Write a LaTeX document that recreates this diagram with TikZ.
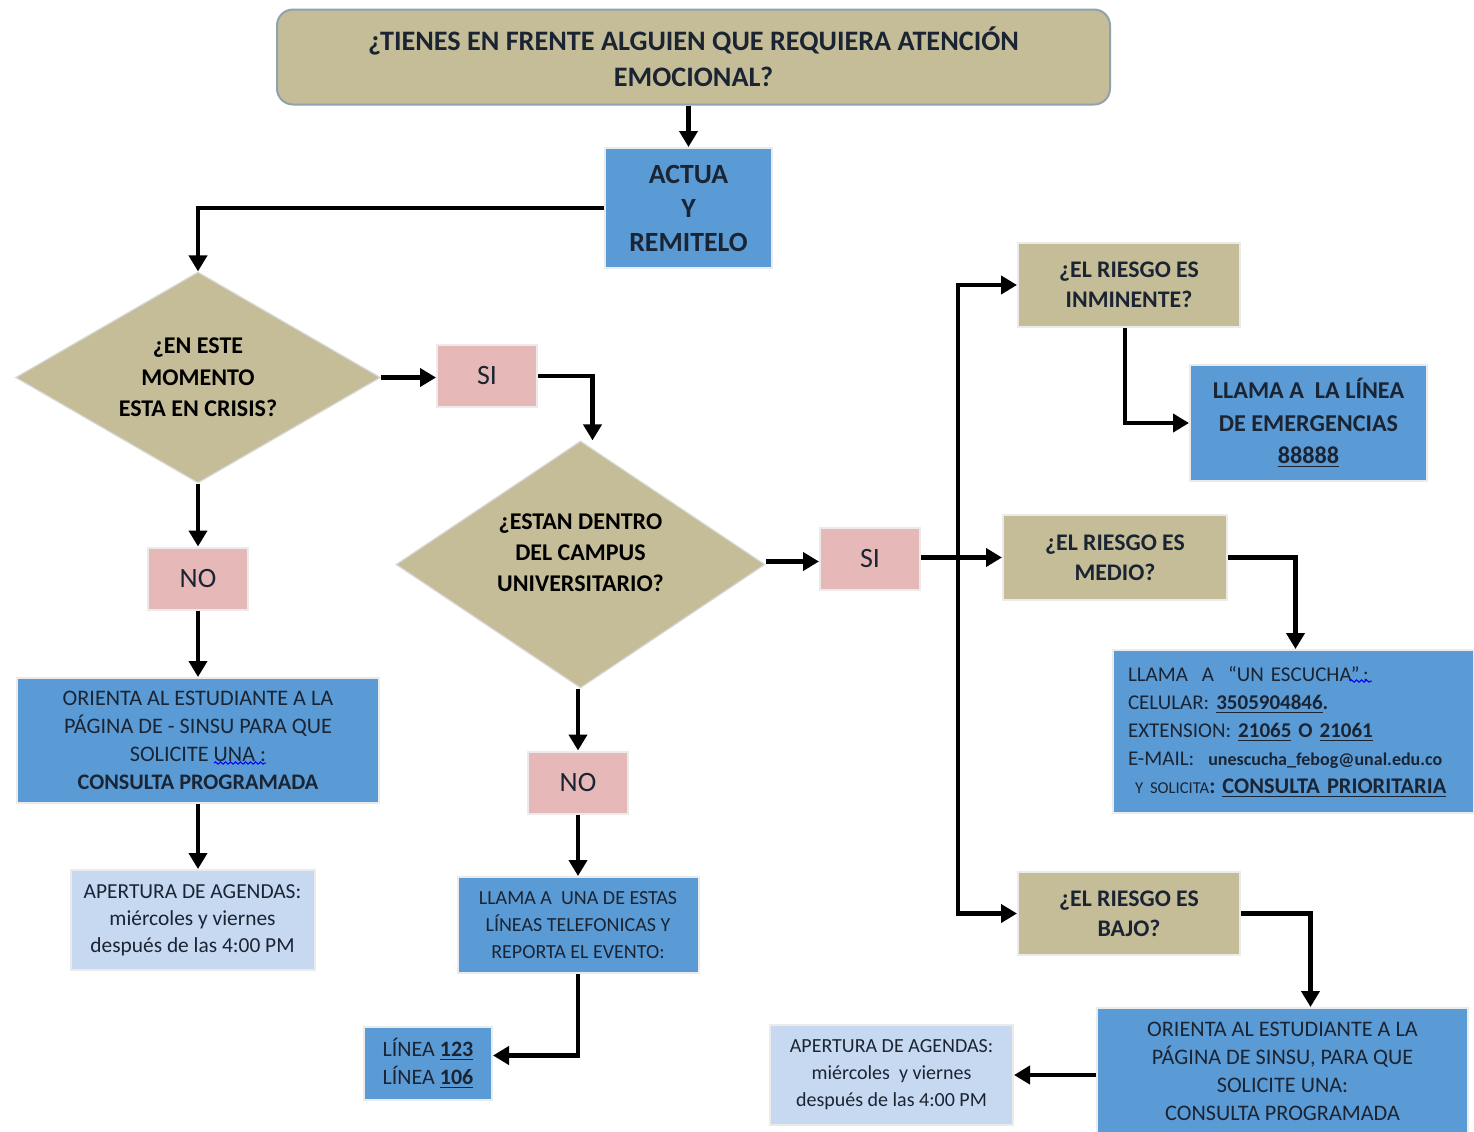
\documentclass[tikz,border=0pt]{standalone}
\usepackage{fontspec}
\setmainfont{Carlito}
\usetikzlibrary{shapes.geometric,arrows.meta,decorations.pathmorphing}

\definecolor{boxtan}{HTML}{C4BD97}
\definecolor{boxblue}{HTML}{5B9BD5}
\definecolor{boxpink}{HTML}{E6B9B8}
\definecolor{boxpale}{HTML}{C6D9F1}
\definecolor{titleline}{HTML}{8FA3AE}
\definecolor{ink}{HTML}{1B2433}

\tikzset{
    base/.style={
           rectangle,
           draw=black!8, line width=1pt,
           align=center,
           inner sep=2pt,
           text=ink,
           },
    title/.style={
           base,
           rounded corners=8pt,
           fill=boxtan, draw=titleline,
           minimum width=416.5pt, minimum height=47.5pt,
           font=\fontsize{14.1}{18}\selectfont\bfseries,
           },
    action/.style={base, fill=boxblue},
    question/.style={
           base, fill=boxtan,
           minimum width=111pt, minimum height=42pt,
           font=\fontsize{11.9}{15}\selectfont\bfseries,
           },
    decision/.style={
           diamond, aspect=1.7,
           draw=black!15, line width=0.6pt,
           fill=boxtan, text=black,
           align=center, inner sep=0pt,
           font=\fontsize{12}{15.7}\selectfont\bfseries,
           },
    answer/.style={
           base, fill=boxpink,
           minimum width=50pt, minimum height=31pt,
           font=\fontsize{14}{15}\selectfont,
           },
    note/.style={
           base, fill=boxpale,
           minimum width=122pt, minimum height=50pt,
           font=\fontsize{10}{13.5}\selectfont,
           },
    flow/.style={line width=2.3pt, -{Triangle[length=8pt,width=9pt]}},
    squiggle/.style={blue, line width=0.5pt, decorate,
           decoration={snake, amplitude=0.6pt, segment length=2.5pt}},
}

\begin{document}
\begin{tikzpicture}[x=0.5pt, y=-0.5pt]
    \path[use as bounding box, fill=white] (0,0) rectangle (1474,1131);

    % Question at the top
    \node[title,            % layout (defined above)
    anchor=center] (start) at (693.5,57)
    {¿TIENES EN FRENTE ALGUIEN QUE REQUIERA ATENCIÓN\\EMOCIONAL?};

    \node[action,
    minimum width=83.5pt, minimum height=60pt,
    font=\fontsize{13.9}{17}\selectfont\bfseries,
    anchor=center] (actua) at (688.5,208)
    {ACTUA\\Y\\REMITELO};

    % Left branch: crisis or not
    \node[decision, minimum width=182.5pt, minimum height=105.5pt,
    anchor=center] (crisis) at (198,377.5)
    {¿EN ESTE\\MOMENTO\\ESTA EN CRISIS?};

    \node[answer, anchor=center] (si1) at (487,376) {SI};

    \node[answer, anchor=center] (no1) at (198,578.5) {NO};

    \node[action,
    minimum width=181pt, minimum height=62.5pt,
    font=\fontsize{11.1}{14}\selectfont,
    anchor=center] (orient1) at (198,740.5)
    {ORIENTA AL ESTUDIANTE A LA\\PÁGINA DE - SINSU PARA QUE\\
     SOLICITE UNA :\\\textbf{CONSULTA PROGRAMADA}};

    \node[note, font=\fontsize{10.7}{13.5}\selectfont,
    anchor=center] (agenda1) at (192.5,920)
    {APERTURA DE AGENDAS:\\miércoles y viernes\\después de las 4:00 PM};

    % Middle branch: on campus or not (text sits above the centre)
    \node[decision, minimum width=184.5pt, minimum height=123.5pt,
    label={[font=\fontsize{12}{15.5}\selectfont\bfseries, align=center,
            yshift=6pt]center:{¿ESTAN DENTRO\\DEL CAMPUS\\UNIVERSITARIO?}},
    anchor=center] (campus) at (580.5,564.5) {};

    \node[answer, anchor=center] (no2) at (578,782.5) {NO};

    \node[action,
    minimum width=120.5pt, minimum height=48pt,
    font=\fontsize{10}{13.3}\selectfont,
    anchor=center] (llama) at (578,925)
    {LLAMA A\ \ UNA DE ESTAS\\LÍNEAS TELEFONICAS Y\\REPORTA EL EVENTO:};

    \node[action,
    minimum width=64pt, minimum height=36.5pt,
    font=\fontsize{11}{14}\selectfont, align=left,
    anchor=center] (lineas) at (428,1063.5)
    {LÍNEA \textbf{\underline{123}}\\LÍNEA \textbf{\underline{106}}};

    \node[answer, anchor=center] (si2) at (870,558.5) {SI};

    % Right branch: level of risk
    \node[question, anchor=center] (inminente) at (1129,285)
    {¿EL RIESGO ES\\INMINENTE?};

    \node[action,
    minimum width=118.5pt, minimum height=58pt,
    font=\fontsize{12.1}{16.3}\selectfont\bfseries,
    anchor=center] (emergencia) at (1308.5,423)
    {LLAMA A\ \ LA LÍNEA\\DE EMERGENCIAS\\\underline{88888}};

    \node[question, minimum width=112pt, minimum height=42.5pt,
    anchor=center] (medio) at (1115,557.5)
    {¿EL RIESGO ES\\MEDIO?};

    \node[action,
    minimum width=180.5pt, minimum height=81.5pt,
    text width=165.5pt, inner xsep=7.5pt, align=left,
    font=\fontsize{10.5}{14}\selectfont,
    anchor=center] (escucha) at (1293.5,731.5)
    {LLAMA\ \ A\ \ “UN ESCUCHA”\,:\\
     CELULAR: \textbf{\underline{3505904846}.}\\
     EXTENSION: \textbf{\underline{21065} O \underline{21061}}\\
     E-MAIL:\ \ {\fontsize{9}{14}\selectfont\bfseries unescucha\_febog@unal.edu.co}\\
     \ {\fontsize{8.3}{14}\selectfont Y SOLICITA}{\fontsize{11.2}{14}\selectfont\bfseries: \underline{CONSULTA PRIORITARIA}}};

    \node[question, minimum height=41.5pt,
    anchor=center] (bajo) at (1129,913.5)
    {¿EL RIESGO ES\\BAJO?};

    \node[action,
    minimum width=185.5pt, minimum height=63.5pt,
    font=\fontsize{11.1}{14}\selectfont,
    anchor=center] (orient2) at (1282.5,1071.5)
    {ORIENTA AL ESTUDIANTE A LA\\PÁGINA DE SINSU, PARA QUE\\
     SOLICITE UNA:\\CONSULTA PROGRAMADA};

    \node[note, minimum width=121.5pt, anchor=center] (agenda2) at (891.5,1075)
    {APERTURA DE AGENDAS:\\miércoles\ \ y viernes\\después de las 4:00 PM};

    \coordinate (split) at (958,560);

    % spell-check marks
    \draw[squiggle] (214,763) -- (266,763);
    \draw[squiggle] (1350,681) -- (1372,681);

    % draw the connectors
    \draw[flow] (start.south -| actua.north) -- (actua.north);
    \draw[flow] (actua.west) -| (crisis.north);

    \draw[flow] (crisis.east) -- (crisis.east -| si1.west);
    \draw[flow] (si1.east) -| ([xshift=6pt]campus.north);
    \draw[flow] (crisis.south) -- (no1.north);
    \draw[flow] (no1.south) -- (orient1.north);
    \draw[flow] (orient1.south) -- (orient1.south |- agenda1.north);

    \draw[flow] (campus.south -| no2.north) -- (no2.north);
    \draw[flow] (no2.south) -- (no2.south |- llama.north);
    \draw[flow] (llama.south) |- ([yshift=4pt]lineas.east);
    \draw[flow] ([yshift=1.5pt]campus.east) -- ([yshift=1.5pt]campus.east -| si2.west);

    \draw[flow] (si2.east |- medio.west) -- (medio.west);
    \draw[flow] (split) |- (inminente.west);
    \draw[flow] (split) |- (bajo.west);
    \draw[flow] ([xshift=-2pt]inminente.south) |- (emergencia.west);
    \draw[flow] (medio.east) -| ([xshift=1pt]escucha.north);
    \draw[flow] (bajo.east) -| ([xshift=14pt]orient2.north);
    \draw[flow] (orient2.west |- agenda2.east) -- (agenda2.east);
\end{tikzpicture}
\end{document}
